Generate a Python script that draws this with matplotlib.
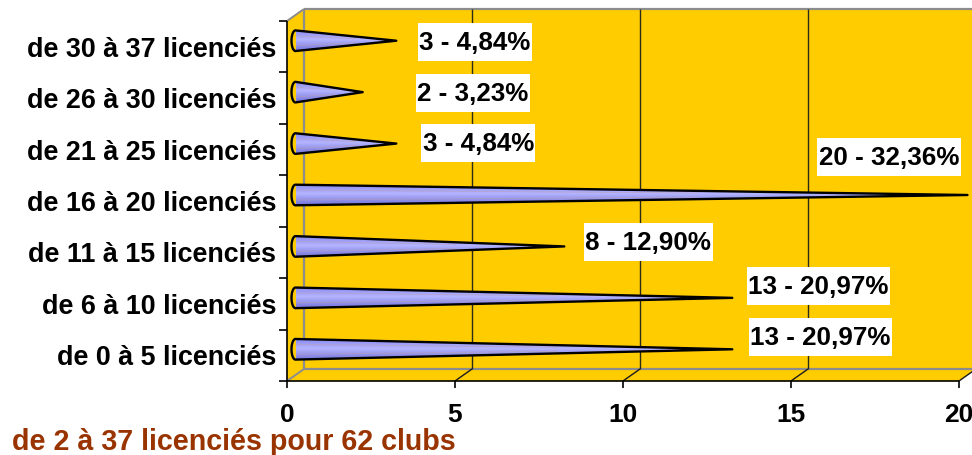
import numpy as np
import matplotlib
matplotlib.use("Agg")
import matplotlib.pyplot as plt
from matplotlib.patches import Polygon, Rectangle
from matplotlib.path import Path

# ---------------- data ----------------
categories = ["de 0 à 5 licenciés", "de 6 à 10 licenciés", "de 11 à 15 licenciés",
              "de 16 à 20 licenciés", "de 21 à 25 licenciés", "de 26 à 30 licenciés",
              "de 30 à 37 licenciés"]
counts = [13, 13, 8, 20, 3, 2, 3]
percents = ["20,97%", "20,97%", "12,90%", "32,36%", "4,84%", "3,23%", "4,84%"]
xticks = [0, 5, 10, 15, 20]
footer = "de 2 à 37 licenciés pour 62 clubs"

# label placement (pixel offsets from cone tip) - layout only
label_offsets = [(88, 12.6), (86, 12), (84, 4), (-78.5, 37.6), (82, 0.5), (110, -0.6), (78.4, -1)]

plt.rcParams['font.family'] = ['Liberation Sans', 'DejaVu Sans']

W, H = 972, 456
fig = plt.figure(figsize=(W / 100, H / 100), dpi=100)
ax = fig.add_axes([295.5 / W, (H - 376) / H, 672 / W, 360 / H])

px2x = 20 / 672
px2y = 7 / 360
ddx = 8.5 * px2x
ddy = 6 * px2y
gold = '#FFCC00'
edge_gray = '#8C8C8C'

# walls
ax.add_patch(Rectangle((ddx, -0.5 + ddy), 20, 7, fc=gold, ec='none', clip_on=False, zorder=0))
ax.add_patch(Polygon([(-ddx, -0.5 - ddy), (ddx, -0.5 + ddy), (ddx, 6.5 + ddy), (-ddx, 6.5 - ddy)],
                     closed=True, fc=gold, ec='none', clip_on=False, zorder=0))
ax.add_patch(Polygon([(-ddx, -0.5 - ddy), (20 - ddx, -0.5 - ddy), (20 + ddx, -0.5 + ddy), (ddx, -0.5 + ddy)],
                     closed=True, fc=gold, ec='none', clip_on=False, zorder=0))

def seg(x0, y0, x1, y1, **kw):
    ax.plot([x0, x1], [y0, y1], clip_on=False, solid_capstyle='butt', **kw)

# gray frame edges
seg(ddx, 6.5 + ddy, 20 + ddx, 6.5 + ddy, color=edge_gray, lw=1.6, zorder=1)
seg(ddx, -0.5 + ddy, ddx, 6.5 + ddy, color=edge_gray, lw=1.6, zorder=1)
seg(ddx, -0.5 + ddy, 20 + ddx, -0.5 + ddy, color=edge_gray, lw=1.6, zorder=1)
seg(-ddx, 6.5 - ddy, ddx, 6.5 + ddy, color=edge_gray, lw=1.4, zorder=1)
seg(-ddx, -0.5 - ddy, ddx, -0.5 + ddy, color=edge_gray, lw=1.4, zorder=1)

# gridlines on back wall and floor
for x in xticks[1:]:
    seg(x + ddx, -0.5 + ddy, x + ddx, 6.5 + ddy, color='#2b2b1a', lw=1.0, zorder=1)
    seg(x - ddx, -0.5 - ddy, x + ddx, -0.5 + ddy, color='#1a1a1a', lw=1.0, zorder=1)

# front axes
seg(-ddx, -0.5 - ddy, 20 - ddx, -0.5 - ddy, color='black', lw=1.2, zorder=4)
seg(-ddx, -0.5 - ddy, -ddx, 6.5 - ddy, color='black', lw=1.2, zorder=4)
for x in xticks:
    seg(x - ddx, -0.5 - ddy, x - ddx, -0.5 - ddy - 7 * px2y, color='black', lw=1.2, zorder=4)
for b in np.arange(-0.5, 7.0, 1.0):
    seg(-ddx, b - ddy, -ddx - 8 * px2x, b - ddy, color='black', lw=1.2, zorder=4)

# cones
top_c = np.array([0x8A, 0x8A, 0xF0]) / 255
mid_c = np.array([0xB4, 0xB4, 0xFF]) / 255
bot_c = np.array([0x74, 0x74, 0xDA]) / 255
n = 60
s = np.linspace(0, 1, n)
grad = np.zeros((n, 1, 3))
for k, t in enumerate(s):
    if t < 0.45:
        f = t / 0.45
        grad[k, 0] = top_c * (1 - f) + mid_c * f
    else:
        f = (t - 0.45) / 0.55
        grad[k, 0] = mid_c * (1 - f) + bot_c * f

h = 10.3 * px2y
ew = 4 * px2x
for i, v in enumerate(counts):
    t = np.linspace(np.pi / 2, 3 * np.pi / 2, 40)
    xs = ew * np.cos(t)
    ys = i + h * np.sin(t)
    verts = list(zip(xs, ys)) + [(v, i)]
    clip = Polygon(verts, closed=True, fc='none', ec='none', transform=ax.transData)
    im = ax.imshow(grad, extent=(-ew, v, i - h, i + h), aspect='auto', origin='upper',
                   interpolation='bilinear', zorder=2)
    im.set_clip_path(clip)
    ax.add_patch(Polygon(verts, closed=True, fc='none', ec='black', lw=1.7,
                         joinstyle='round', clip_on=False, zorder=3))
    for dy in (-0.12, 0.12):
        seg(0, i + dy * h * 4, v * 0.6, i + dy * h * 4 * 0.4, color='#C0A0A0', lw=0.6, alpha=0.5, zorder=2.5)

ax.set_xlim(0, 20)
ax.set_ylim(-0.5, 6.5)
ax.set_aspect('auto')
ax.axis('off')

# white label boxes
def label_box(x0, y0, width, height, mutation_size):
    px = 0.06 * mutation_size
    py = 0.27 * mutation_size
    x0, y0 = x0 - px, y0 - py
    x1, y1 = x0 + width + 2 * px, y0 + height + 2 * py
    return Path([(x0, y0), (x1, y0), (x1, y1), (x0, y1), (x0, y0)], closed=True)

for i, (v, p) in enumerate(zip(counts, percents)):
    ax.annotate(f"{v} - {p}", xy=(v, i), xytext=label_offsets[i], textcoords='offset pixels',
                ha='center', va='center', fontsize=18.7, fontweight='bold', color='black',
                bbox=dict(boxstyle=label_box, fc='white', ec='none'),
                zorder=6, annotation_clip=False)

# category labels
for i, c in enumerate(categories):
    ax.annotate(c, xy=(-ddx, i - ddy), xytext=(-11, -9), textcoords='offset pixels',
                ha='right', va='baseline', fontsize=19.4, fontweight='bold', color='black',
                annotation_clip=False)

# x tick labels
for x in xticks:
    ax.annotate(str(x), xy=(x - ddx, -0.5 - ddy), xytext=(0, -39.7), textcoords='offset pixels',
                ha='center', va='baseline', fontsize=19, fontweight='bold', color='black',
                annotation_clip=False)

fig.text(12 / W, (H - 450) / H, footer, ha='left', va='baseline', fontsize=20.6,
         fontweight='bold', color='#993300')

fig.savefig('out.png', dpi=100)
